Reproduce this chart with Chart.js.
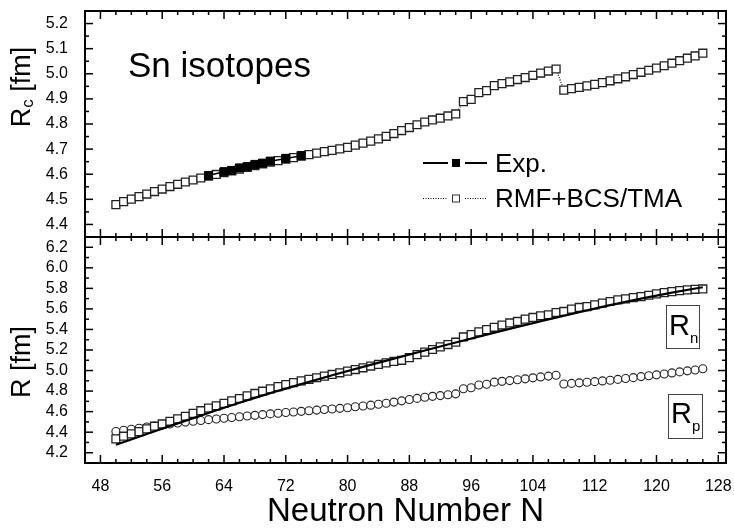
<!DOCTYPE html>
<html>
<head>
<meta charset="utf-8">
<script src="https://cdn.jsdelivr.net/npm/chart.js@4.4.1/dist/chart.umd.min.js"></script>
<style>
    html, body { margin: 0; padding: 0; background: #ffffff; }
    #wrap { width: 734px; height: 532px; }
</style>
</head>
<body>
<div id="wrap"><canvas id="chart" width="734" height="532"></canvas></div>
<script>
// Нейтронные числа изотопов Sn (N = 50 ... 126)
const neutronN = [
    50, 51, 52, 53, 54, 55, 56, 57, 58, 59,
    60, 61, 62, 63, 64, 65, 66, 67, 68, 69,
    70, 71, 72, 73, 74, 75, 76, 77, 78, 79,
    80, 81, 82, 83, 84, 85, 86, 87, 88, 89,
    90, 91, 92, 93, 94, 95, 96, 97, 98, 99,
    100, 101, 102, 103, 104, 105, 106, 107, 108, 109,
    110, 111, 112, 113, 114, 115, 116, 117, 118, 119,
    120, 121, 122, 123, 124, 125, 126
];

// Зарядовый радиус Rc, RMF+BCS/TMA
const rcTheory = [
    4.479, 4.491, 4.501, 4.511, 4.521, 4.531, 4.541, 4.551, 4.560, 4.569,
    4.577, 4.585, 4.592, 4.599, 4.606, 4.613, 4.620, 4.627, 4.634, 4.641,
    4.648, 4.654, 4.660, 4.666, 4.672, 4.678, 4.684, 4.690, 4.695, 4.701,
    4.707, 4.716, 4.724, 4.732, 4.741, 4.751, 4.762, 4.774, 4.786, 4.797,
    4.808, 4.816, 4.823, 4.832, 4.840, 4.889, 4.898, 4.925, 4.933, 4.953,
    4.961, 4.968, 4.977, 4.985, 4.994, 5.003, 5.011, 5.019, 4.935, 4.941,
    4.946, 4.952, 4.958, 4.965, 4.972, 4.980, 4.988, 4.997, 5.006, 5.014,
    5.023, 5.032, 5.042, 5.052, 5.062, 5.071, 5.082
];

// Эксперимент
const expN = [62, 64, 65, 66, 67, 68, 69, 70, 72, 74];
const rcExp = [4.595, 4.610, 4.615, 4.625, 4.630, 4.639, 4.644, 4.652, 4.663, 4.674];

// Нейтронный радиус Rn (квадраты)
const rnTheory = [
    4.335, 4.361, 4.384, 4.406, 4.432, 4.458, 4.480, 4.506, 4.529, 4.555,
    4.583, 4.609, 4.635, 4.657, 4.680, 4.705, 4.728, 4.754, 4.777, 4.799,
    4.822, 4.844, 4.864, 4.883, 4.899, 4.915, 4.930, 4.946, 4.962, 4.978,
    4.994, 5.010, 5.027, 5.044, 5.059, 5.075, 5.089, 5.100, 5.125, 5.155,
    5.179, 5.205, 5.231, 5.253, 5.276, 5.327, 5.350, 5.376, 5.398, 5.421,
    5.443, 5.463, 5.478, 5.501, 5.517, 5.533, 5.543, 5.565, 5.575, 5.598,
    5.614, 5.623, 5.640, 5.656, 5.672, 5.688, 5.698, 5.710, 5.720, 5.733,
    5.746, 5.759, 5.768, 5.778, 5.785, 5.791, 5.794
];

// Протонный радиус Rp (кружки)
const rpTheory = [
    4.407, 4.419, 4.429, 4.439, 4.450, 4.460, 4.470, 4.480, 4.489, 4.498,
    4.506, 4.514, 4.522, 4.529, 4.536, 4.543, 4.550, 4.557, 4.564, 4.571,
    4.578, 4.584, 4.591, 4.597, 4.603, 4.609, 4.615, 4.621, 4.626, 4.632,
    4.638, 4.647, 4.655, 4.663, 4.672, 4.682, 4.693, 4.705, 4.718, 4.729,
    4.740, 4.749, 4.756, 4.765, 4.773, 4.823, 4.832, 4.859, 4.867, 4.887,
    4.895, 4.902, 4.911, 4.919, 4.929, 4.938, 4.946, 4.954, 4.869, 4.875,
    4.880, 4.886, 4.892, 4.899, 4.906, 4.914, 4.922, 4.931, 4.941, 4.949,
    4.958, 4.967, 4.977, 4.987, 4.997, 5.006, 5.018
];

// Сплошная кривая в нижней панели
const rnLineN = [50, 54, 58, 62, 66, 70, 74, 78, 82, 86, 90, 94, 98, 102, 106, 110, 114, 118, 122, 126];
const rnLine = [4.277, 4.382, 4.486, 4.587, 4.686, 4.780, 4.868, 4.954, 5.036, 5.116,
                5.195, 5.273, 5.350, 5.425, 5.498, 5.569, 5.637, 5.700, 5.758, 5.811];

// Подписи осей
const xTicks = [48, 56, 64, 72, 80, 88, 96, 104, 112, 120, 128];
const rcTicks = [4.4, 4.5, 4.6, 4.7, 4.8, 4.9, 5.0, 5.1, 5.2];
const rTicks = [4.2, 4.4, 4.6, 4.8, 5.0, 5.2, 5.4, 5.6, 5.8, 6.0, 6.2];

const FONT = "'Liberation Sans', Arial, Helvetica, sans-serif";

const pts = (xs, ys) => xs.map((x, i) => ({ x: x, y: ys[i] }));

function line(ctx, x1, y1, x2, y2) {
    ctx.beginPath();
    ctx.moveTo(x1, y1);
    ctx.lineTo(x2, y2);
    ctx.stroke();
}

// Текст с нижним индексом
function subText(ctx, x, y, main, sub, size, subSize, subDrop, tail) {
    ctx.font = size + 'px ' + FONT;
    ctx.fillText(main, x, y);
    let w = ctx.measureText(main).width;
    ctx.font = subSize + 'px ' + FONT;
    ctx.fillText(sub, x + w, y + subDrop);
    w += ctx.measureText(sub).width;
    if (tail) {
        ctx.font = size + 'px ' + FONT;
        ctx.fillText(tail, x + w, y);
        w += ctx.measureText(tail).width;
    }
    return w;
}

function noPadding(scale) {
    scale.paddingLeft = 0;
    scale.paddingRight = 0;
    scale.paddingTop = 0;
    scale.paddingBottom = 0;
}

const framePlugin = {
    id: 'frame',
    afterDatasetsDraw(chart) {
        const ctx = chart.ctx;
        const x = chart.scales.x;
        const panels = [chart.scales.y, chart.scales.y2];
        const left = chart.chartArea.left, right = chart.chartArea.right;
        ctx.save();
        ctx.strokeStyle = '#000';
        ctx.fillStyle = '#000';

        panels.forEach((ys, idx) => {
            ctx.lineWidth = 2;
            ctx.strokeRect(left, ys.top, right - left, ys.bottom - ys.top);
            ctx.lineWidth = 1.5;
            // деления по X
            for (let v = 46; v <= 130; v += 2) {
                const px = x.getPixelForValue(v);
                if (px <= left + 1 || px >= right - 1) continue;
                const len = (v % 8 === 0) ? 8 : 4;
                line(ctx, px, ys.bottom, px, ys.bottom - len);
                line(ctx, px, ys.top, px, ys.top + len);
            }
            // деления по Y
            const vals = [];
            if (idx === 0) {
                for (let k = 87; k <= 105; k++) vals.push({ v: k * 0.05, major: k % 2 === 0 });
            } else {
                for (let k = 41; k <= 63; k++) vals.push({ v: k * 0.1, major: k % 2 === 0 });
            }
            vals.forEach(t => {
                const py = ys.getPixelForValue(t.v);
                if (py <= ys.top + 1 || py >= ys.bottom - 1) return;
                const len = t.major ? 8 : 4;
                line(ctx, left, py, left + len, py);
                line(ctx, right, py, right - len, py);
            });
        });

        // Заголовки осей Y
        ctx.textBaseline = 'alphabetic';
        ctx.textAlign = 'left';
        [['R', 'c', 87], ['R', '', 362]].forEach(([main, sub, cy]) => {
            ctx.save();
            ctx.translate(30, cy);
            ctx.rotate(-Math.PI / 2);
            ctx.font = '27px ' + FONT;
            const w1 = ctx.measureText(main).width;
            ctx.font = '17px ' + FONT;
            const w2 = sub ? ctx.measureText(sub).width : 0;
            ctx.font = '27px ' + FONT;
            const w3 = ctx.measureText(' [fm]').width;
            const total = w1 + w2 + w3;
            subText(ctx, -total / 2, 0, main, sub, 27, 17, 3, ' [fm]');
            ctx.restore();
        });

        // Надпись Sn isotopes
        ctx.font = '35px ' + FONT;
        ctx.fillText('Sn isotopes', 128, 77);

        // Легенда
        ctx.lineWidth = 2;
        ctx.setLineDash([]);
        line(ctx, 423, 163, 448, 163);
        line(ctx, 465, 163, 487, 163);
        ctx.fillRect(452, 159, 8, 8);
        ctx.lineWidth = 1;
        ctx.setLineDash([1, 1.5]);
        line(ctx, 423, 198.5, 448, 198.5);
        line(ctx, 465, 198.5, 487, 198.5);
        ctx.setLineDash([]);
        ctx.strokeStyle = '#333';
        ctx.strokeRect(452.5, 195, 7, 7);
        ctx.strokeStyle = '#000';
        ctx.font = '26px ' + FONT;
        ctx.fillText('Exp.', 495, 172);
        ctx.fillText('RMF+BCS/TMA', 495, 207);

        // Рамки Rn и Rp
        ctx.lineWidth = 1;
        ctx.strokeStyle = '#444';
        ctx.strokeRect(666.5, 305.5, 33, 43);
        ctx.strokeRect(668.5, 394.5, 34, 44);
        ctx.fillStyle = '#000';
        subText(ctx, 669, 335, 'R', 'n', 29, 15, 8);
        subText(ctx, 671, 423, 'R', 'p', 29, 15, 8);

        ctx.restore();
    }
};

const openSquare = {
    pointStyle: 'rect',
    pointRadius: 5.6,
    pointBackgroundColor: '#ffffff',
    pointBorderColor: '#222',
    pointBorderWidth: 1.3
};

new Chart(document.getElementById('chart'), {
    type: 'scatter',
    data: {
        datasets: [
            {
                label: 'Exp.',
                data: pts(expN, rcExp),
                yAxisID: 'y',
                showLine: true,
                borderColor: '#000',
                borderWidth: 1.5,
                pointStyle: 'rect',
                pointRadius: 5.7,
                pointBackgroundColor: '#000',
                pointBorderColor: '#000',
                pointBorderWidth: 1
            },
            {
                label: 'RMF+BCS/TMA',
                data: pts(neutronN, rcTheory),
                yAxisID: 'y',
                showLine: true,
                borderColor: '#000',
                borderWidth: 1.2,
                borderDash: [1, 1.5],
                ...openSquare
            },
            {
                label: 'line',
                data: pts(rnLineN, rnLine),
                yAxisID: 'y2',
                showLine: true,
                borderColor: '#000',
                borderWidth: 2.2,
                cubicInterpolationMode: 'monotone',
                pointRadius: 0
            },
            {
                label: 'Rn',
                data: pts(neutronN, rnTheory),
                yAxisID: 'y2',
                showLine: false,
                ...openSquare
            },
            {
                label: 'Rp',
                data: pts(neutronN, rpTheory),
                yAxisID: 'y2',
                showLine: false,
                pointStyle: 'circle',
                pointRadius: 4,
                pointBackgroundColor: '#ffffff',
                pointBorderColor: '#222',
                pointBorderWidth: 1.1
            }
        ]
    },
    options: {
        responsive: false,
        devicePixelRatio: 1,
        animation: false,
        layout: { padding: { top: 11, right: 8, left: 0, bottom: 0 } },
        plugins: {
            legend: { display: false },
            tooltip: { enabled: false }
        },
        scales: {
            x: {
                type: 'linear',
                min: 46,
                max: 129,
                grid: { display: false, drawTicks: false },
                border: { display: false },
                afterBuildTicks: scale => { scale.ticks = xTicks.map(v => ({ value: v })); },
                afterFit: scale => { scale.height = 69; noPadding(scale); },
                ticks: {
                    autoSkip: false,
                    maxRotation: 0,
                    padding: 14,
                    color: '#000',
                    font: { family: FONT, size: 16 }
                },
                title: {
                    display: true,
                    text: 'Neutron Number N',
                    color: '#000',
                    font: { family: FONT, size: 33 },
                    padding: { top: 0, bottom: 0 }
                }
            },
            // нижняя панель объявлена первой — в стопке она окажется снизу
            y2: {
                type: 'linear',
                position: 'left',
                stack: 'panels',
                stackWeight: 1,
                min: 4.1,
                max: 6.3,
                grid: { display: false, drawTicks: false },
                border: { display: false },
                afterBuildTicks: scale => { scale.ticks = rTicks.map(v => ({ value: v })); },
                afterFit: scale => { scale.width = 85; noPadding(scale); },
                ticks: {
                    autoSkip: false,
                    padding: 17,
                    color: '#000',
                    font: { family: FONT, size: 16 },
                    callback: v => v.toFixed(1)
                }
            },
            y: {
                type: 'linear',
                position: 'left',
                stack: 'panels',
                stackWeight: 1,
                min: 4.35,
                max: 5.25,
                grid: { display: false, drawTicks: false },
                border: { display: false },
                afterBuildTicks: scale => { scale.ticks = rcTicks.map(v => ({ value: v })); },
                afterFit: scale => { scale.width = 85; noPadding(scale); },
                ticks: {
                    autoSkip: false,
                    padding: 17,
                    color: '#000',
                    font: { family: FONT, size: 16 },
                    callback: v => v.toFixed(1)
                }
            }
        }
    },
    plugins: [framePlugin]
});
</script>
</body>
</html>
